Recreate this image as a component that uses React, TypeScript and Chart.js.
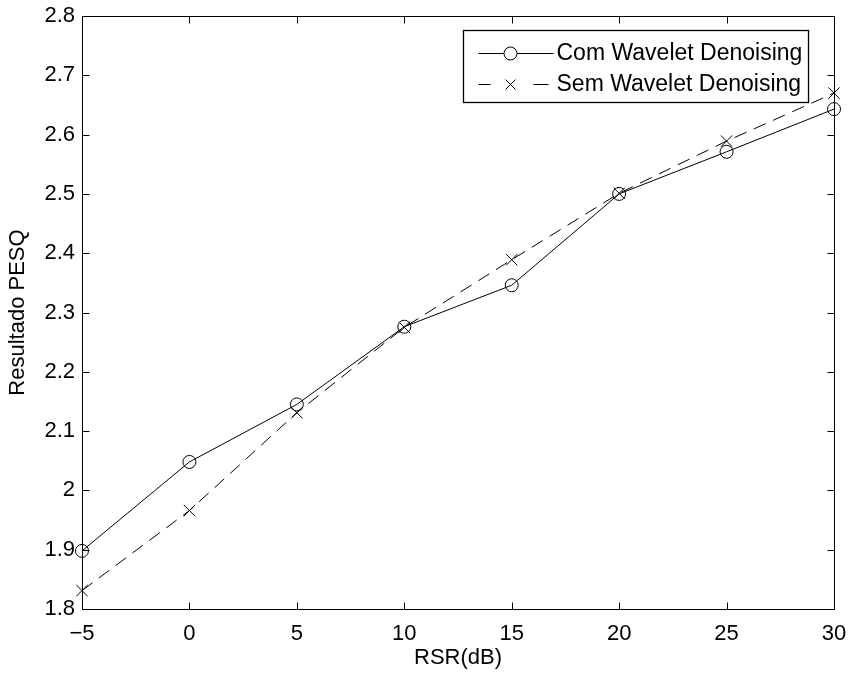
import React, { useEffect, useRef } from "react";
import { Chart, registerables } from "chart.js";

Chart.register(...registerables);

const rsrValues = [-5, 0, 5, 10, 15, 20, 25, 30];
const comWavelet = [1.898, 2.048, 2.145, 2.276, 2.346, 2.5, 2.571, 2.643];
const semWavelet = [1.831, 1.966, 2.131, 2.275, 2.389, 2.501, 2.589, 2.67];
const seriesLabels = ["Com Wavelet Denoising", "Sem Wavelet Denoising"];
const xTitle = "RSR(dB)";
const yTitle = "Resultado PESQ";

const FONT = "'Liberation Sans', Arial, Helvetica, sans-serif";
const FS = 22;

const boxTicksPlugin = {
  id: "boxTicks",
  afterDatasetsDraw(chart: any) {
    const { ctx, chartArea } = chart;
    const xs = chart.scales.x;
    const ys = chart.scales.y;
    const L = 7;
    ctx.save();
    ctx.strokeStyle = "#000";
    ctx.lineWidth = 1;
    ctx.beginPath();
    const left = Math.round(chartArea.left) + 0.5;
    const right = Math.round(chartArea.right) + 0.5;
    const top = Math.round(chartArea.top) + 0.5;
    const bottom = Math.round(chartArea.bottom) + 0.5;
    xs.ticks.forEach((t: any) => {
      const px = Math.round(xs.getPixelForValue(t.value)) + 0.5;
      ctx.moveTo(px, bottom);
      ctx.lineTo(px, bottom - L);
      ctx.moveTo(px, top);
      ctx.lineTo(px, top + L);
    });
    ys.ticks.forEach((t: any) => {
      const py = Math.round(ys.getPixelForValue(t.value)) + 0.5;
      ctx.moveTo(left, py);
      ctx.lineTo(left + L, py);
      ctx.moveTo(right, py);
      ctx.lineTo(right - L, py);
    });
    ctx.stroke();
    ctx.strokeRect(left, top, right - left, bottom - top);
    ctx.restore();
  },
};

const legendPlugin = {
  id: "boxLegend",
  afterDraw(chart: any) {
    const { ctx, chartArea } = chart;
    const bx1 = Math.round(chartArea.right - 26) + 0.5;
    const by0 = Math.round(chartArea.top + 14) + 0.5;
    const bx0 = bx1 - 345;
    const by1 = by0 + 72;
    ctx.save();
    ctx.fillStyle = "#fff";
    ctx.fillRect(bx0, by0, bx1 - bx0, by1 - by0);
    ctx.strokeStyle = "#000";
    ctx.lineWidth = 1.3;
    ctx.strokeRect(bx0, by0, bx1 - bx0, by1 - by0);
    const rows = [by0 + 22.5, by0 + 53.5];
    const lx0 = bx0 + 15;
    const lx1 = bx0 + 90;
    const mx = bx0 + 47;
    chart.data.datasets.forEach((ds: any, i: number) => {
      const y = Math.round(rows[i]) + 0.5;
      ctx.strokeStyle = "#000";
      ctx.lineWidth = 1;
      ctx.beginPath();
      if (ds.borderDash && ds.borderDash.length) {
        ctx.moveTo(lx0, y);
        ctx.lineTo(lx0 + 12, y);
        ctx.moveTo(lx1 - 20, y);
        ctx.lineTo(lx1 - 5, y);
      } else {
        ctx.moveTo(lx0, y);
        ctx.lineTo(lx1, y);
      }
      ctx.stroke();
      ctx.beginPath();
      if (ds.pointStyle === "circle") {
        ctx.fillStyle = "#fff";
        ctx.arc(mx, y, ds.pointRadius, 0, Math.PI * 2);
        ctx.fill();
        ctx.stroke();
      } else {
        const o = 5;
        ctx.moveTo(mx - o, y - o);
        ctx.lineTo(mx + o, y + o);
        ctx.moveTo(mx - o, y + o);
        ctx.lineTo(mx + o, y - o);
        ctx.stroke();
      }
      ctx.fillStyle = "#000";
      ctx.font = `23px ${FONT}`;
      ctx.textBaseline = "middle";
      ctx.textAlign = "left";
      ctx.fillText(ds.label, bx0 + 93, rows[i] + 1);
    });
    ctx.restore();
  },
};

export default function App() {
  const ref = useRef<HTMLCanvasElement>(null);
  useEffect(() => {
    document.body.style.margin = "0";
    const canvas = ref.current!;
    const chart = new Chart(canvas, {
      type: "line",
      data: {
        datasets: [
          {
            label: seriesLabels[0],
            data: rsrValues.map((x, i) => ({ x, y: comWavelet[i] })),
            borderColor: "#000",
            borderWidth: 1,
            pointStyle: "circle",
            pointRadius: 6.5,
            pointBorderColor: "#000",
            pointBackgroundColor: "rgba(0,0,0,0)",
            pointBorderWidth: 1,
            tension: 0,
            clip: false,
          } as any,
          {
            label: seriesLabels[1],
            data: rsrValues.map((x, i) => ({ x, y: semWavelet[i] })),
            borderColor: "#000",
            borderWidth: 1,
            borderDash: [13, 8],
            pointStyle: "crossRot",
            pointRadius: 8,
            pointBorderColor: "#000",
            pointBorderWidth: 1,
            tension: 0,
            clip: false,
          } as any,
        ],
      },
      options: {
        animation: false,
        responsive: false,
        devicePixelRatio: 1,
        layout: { padding: { top: 16, right: 16, left: 0, bottom: 0 } },
        plugins: { legend: { display: false }, tooltip: { enabled: false } },
        scales: {
          x: {
            type: "linear",
            min: -5,
            max: 30,
            grid: { display: false, drawTicks: false },
            border: { display: false },
            ticks: {
              stepSize: 5,
              padding: 12,
              color: "#000",
              font: { family: FONT, size: FS },
              maxRotation: 0,
              callback: (v: any) => (v < 0 ? "\u2212" + -v : String(v)),
            },
            title: {
              display: true,
              text: xTitle,
              color: "#000",
              font: { family: FONT, size: FS },
              padding: { top: 0, bottom: 4 },
            },
            afterFit: (s: any) => {
              s.height = 66;
              s.paddingLeft = 0;
              s.paddingRight = 0;
            },
          },
          y: {
            min: 1.8,
            max: 2.8,
            grid: { display: false, drawTicks: false },
            border: { display: false },
            ticks: {
              stepSize: 0.1,
              padding: 7,
              color: "#000",
              font: { family: FONT, size: FS },
              callback: (v: any) => String(Number(Number(v).toFixed(1))),
            },
            title: {
              display: true,
              text: yTitle,
              color: "#000",
              font: { family: FONT, size: FS },
              padding: { top: 5, bottom: 0 },
            },
            afterFit: (s: any) => {
              s.width = 82;
              s.paddingTop = 0;
              s.paddingBottom = 0;
            },
          },
        },
      },
      plugins: [boxTicksPlugin, legendPlugin],
    });
    return () => chart.destroy();
  }, []);
  return <canvas ref={ref} width={850} height={675} style={{ display: "block" }} />;
}
